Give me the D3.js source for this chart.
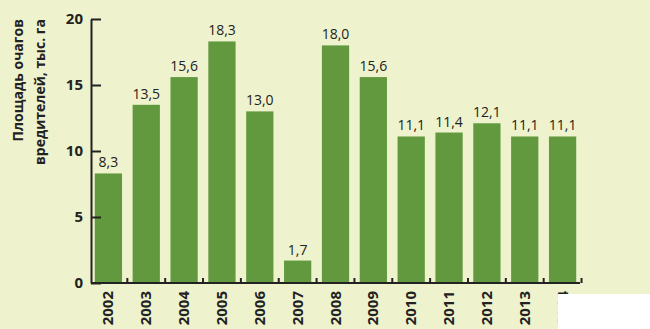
<!DOCTYPE html>
<html>
<head>
<meta charset="utf-8">
<script src="https://cdn.jsdelivr.net/npm/d3@7"></script>
<style>
  body { margin: 0; background: #eef3cd; }
  svg { display: block; }
</style>
</head>
<body>
<div class="canvas"></div>
<script>
// Data
const years = ['2002', '2003', '2004', '2005', '2006', '2007', '2008', '2009', '2010', '2011', '2012', '2013', '2014'];
const area = [8.3, 13.5, 15.6, 18.3, 13.0, 1.7, 18.0, 15.6, 11.1, 11.4, 12.1, 11.1, 11.1];
const yTicks = [0, 5, 10, 15, 20];

const width = 650, height = 329;
const plot = { left: 91, right: 580, top: 19, bottom: 283 };

const svg = d3.select('.canvas')
    .append('svg')
    .attr('width', width)
    .attr('height', height);

svg.append('rect')
    .attr('width', width)
    .attr('height', height)
    .attr('fill', '#eef3cd');

const x = d3.scaleBand()
    .domain(years)
    .range([plot.left, plot.right])
    .paddingInner(0.28)
    .paddingOuter(0.1);

const y = d3.scaleLinear()
    .domain([0, 20])
    .range([plot.bottom, plot.top]);

// bars
svg.selectAll('rect.bar')
    .data(area)
    .enter()
    .append('rect')
    .attr('class', 'bar')
    .attr('x', (d, i) => x(years[i]))
    .attr('y', d => y(d))
    .attr('width', x.bandwidth())
    .attr('height', d => y(0) - y(d))
    .attr('fill', '#62993f');

// value labels
svg.selectAll('text.val')
    .data(area)
    .enter()
    .append('text')
    .attr('class', 'val')
    .attr('x', (d, i) => x(years[i]) + x.bandwidth() / 2)
    .attr('y', d => y(d) - 6)
    .attr('text-anchor', 'middle')
    .style('font', '14px "Open Sans", sans-serif')
    .attr('fill', '#222')
    .text(d => d3.format('.1f')(d).replace('.', ','));

// y axis
const yAxis = d3.axisLeft(y)
    .tickValues(yTicks)
    .tickSizeInner(-10)
    .tickSizeOuter(0)
    .tickPadding(10);

const gy = svg.append('g')
    .attr('transform', `translate(${plot.left},0)`)
    .call(yAxis);
gy.select('.domain').attr('stroke', '#222').attr('stroke-width', 2);
gy.selectAll('.tick line').attr('stroke', '#222').attr('stroke-width', 2);
gy.selectAll('.tick text')
    .attr('x', -8)
    .style('font', 'bold 15px "Open Sans", sans-serif')
    .attr('fill', '#222');

// x axis line and ticks between bars
svg.append('line')
    .attr('x1', plot.left).attr('x2', plot.right)
    .attr('y1', plot.bottom).attr('y2', plot.bottom)
    .attr('stroke', '#222').attr('stroke-width', 2);

const gap = x.step() * x.paddingInner() / 2;
svg.selectAll('line.xt')
    .data(years)
    .enter()
    .append('line')
    .attr('class', 'xt')
    .attr('x1', d => x(d) + x.bandwidth() + gap)
    .attr('x2', d => x(d) + x.bandwidth() + gap)
    .attr('y1', plot.bottom)
    .attr('y2', plot.bottom - 5)
    .attr('stroke', '#222').attr('stroke-width', 2);

// x labels
svg.selectAll('text.yr')
    .data(years)
    .enter()
    .append('text')
    .attr('class', 'yr')
    .attr('transform', d => `translate(${x(d) + x.bandwidth() / 2 + 5},${plot.bottom + 8})rotate(-90)`)
    .attr('text-anchor', 'end')
    .style('font', 'bold 15px "Open Sans", sans-serif')
    .attr('fill', '#222')
    .text(d => d);

// y axis title
const title = svg.append('text')
    .attr('transform', 'translate(0,19)rotate(-90)')
    .attr('text-anchor', 'end')
    .style('font', 'bold 14px "Open Sans", sans-serif')
    .attr('fill', '#222');
title.append('tspan').attr('x', 0).attr('y', 23).text('Площадь очагов');
title.append('tspan').attr('x', 0).attr('y', 45).text('вредителей, тыс. га');

// white cut-off corner
svg.append('rect')
    .attr('x', 558).attr('y', 294)
    .attr('width', width - 558).attr('height', height - 294)
    .attr('fill', '#fff');
</script>
</body>
</html>
